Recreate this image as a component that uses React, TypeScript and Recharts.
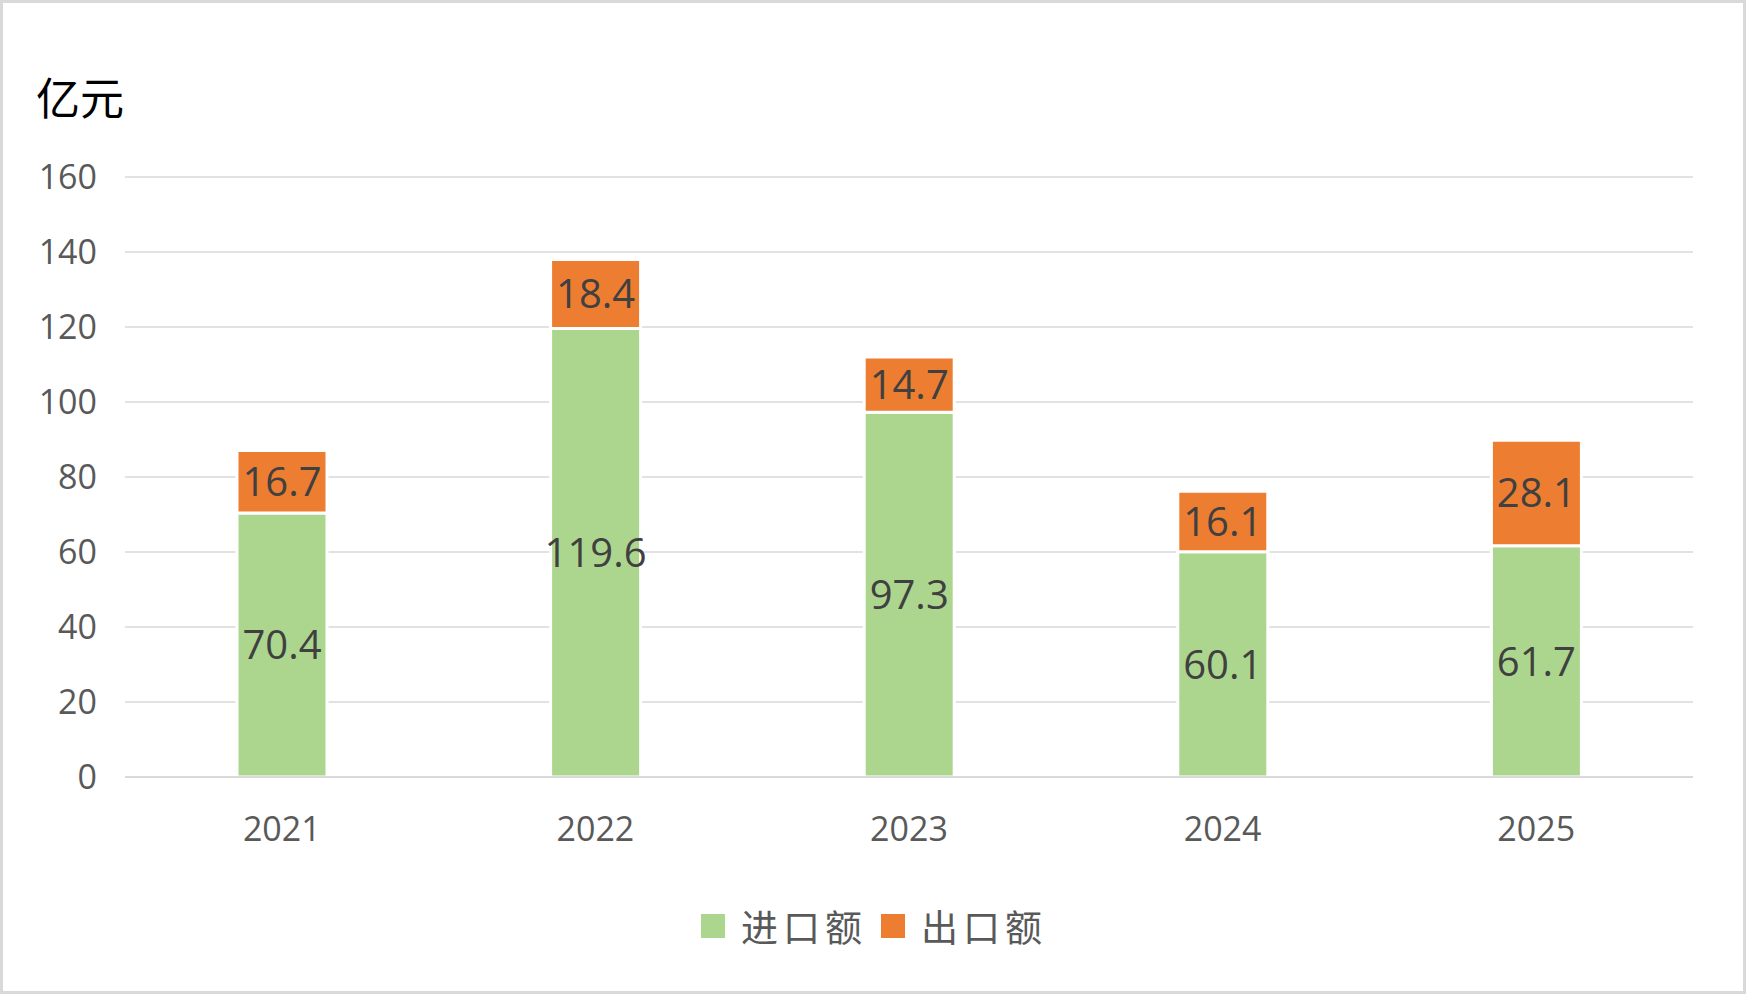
import { BarChart, Bar, XAxis, YAxis, CartesianGrid, LabelList } from "recharts";

const years = ["2021", "2022", "2023", "2024", "2025"];
const importValues = [70.4, 119.6, 97.3, 60.1, 61.7];
const exportValues = [16.7, 18.4, 14.7, 16.1, 28.1];
const yTicks = [0, 20, 40, 60, 80, 100, 120, 140, 160];

const IMPORT_COLOR = "#acd68e";
const EXPORT_COLOR = "#ed7d31";
const LATIN = "'Open Sans', 'Noto Sans', sans-serif";
const CJK = "'Noto Sans CJK SC', sans-serif";

const data = years.map((year, i) => ({
  year,
  imp: importValues[i],
  exp: exportValues[i],
}));

const legendItems = [
  { name: "进口额", color: IMPORT_COLOR },
  { name: "出口额", color: EXPORT_COLOR },
];

export default function App() {
  return (
    <div style={{
      position: "absolute", left: 0, top: 0, width: 1746, height: 994,
      background: "#fff", boxSizing: "border-box", border: "3px solid #d9d9d9",
    }}>
      <div style={{
        position: "absolute", left: 33, top: 66, fontFamily: CJK,
        fontSize: 44, color: "#000", lineHeight: "54px",
      }}>
        亿元
      </div>
      <div style={{ position: "absolute", left: -3, top: -3 }}>
        <BarChart width={1746} height={994} data={data}
                  margin={{ top: 177, right: 53, bottom: 187, left: 0 }}
                  barSize={90}>
          <CartesianGrid vertical={false} stroke="#e2e2e2" strokeWidth={2} />
          <XAxis dataKey="year" tickLine={false} tickSize={0} tickMargin={40} height={30}
                 axisLine={{ stroke: "#d9d9d9", strokeWidth: 2 }}
                 tick={{ fill: "#595959", fontSize: 34, fontFamily: LATIN }} />
          <YAxis width={125} domain={[0, 160]} ticks={yTicks} axisLine={false}
                 tickLine={false} tickSize={0} tickMargin={28} interval={0}
                 tick={{ fill: "#595959", fontSize: 34, fontFamily: LATIN }} />
          <Bar dataKey="imp" stackId="a" fill={IMPORT_COLOR} stroke="#fff"
               strokeWidth={3} isAnimationActive={false}>
            <LabelList dataKey="imp" position="center" fill="#404040"
                       fontSize={40} fontFamily={LATIN} />
          </Bar>
          <Bar dataKey="exp" stackId="a" fill={EXPORT_COLOR} stroke="#fff"
               strokeWidth={3} isAnimationActive={false}>
            <LabelList dataKey="exp" position="center" fill="#404040"
                       fontSize={40} fontFamily={LATIN} />
          </Bar>
        </BarChart>
      </div>
      <div style={{
        position: "absolute", left: 698, top: 903, display: "flex",
        alignItems: "center", height: 40,
      }}>
        {legendItems.map((it) => (
          <div key={it.name} style={{ display: "flex", alignItems: "center", marginRight: 14 }}>
            <span style={{ width: 24, height: 24, background: it.color, display: "inline-block" }} />
            <span style={{
              marginLeft: 16, fontFamily: CJK, fontSize: 37, color: "#595959",
              letterSpacing: 5, lineHeight: "40px",
            }}>
              {it.name}
            </span>
          </div>
        ))}
      </div>
    </div>
  );
}
